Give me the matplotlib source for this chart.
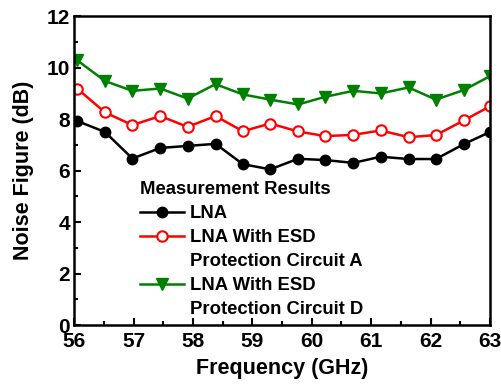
import matplotlib.pyplot as plt
from matplotlib.lines import Line2D
from matplotlib.ticker import MultipleLocator

freq = [56.05, 56.52, 56.98, 57.45, 57.91, 58.38, 58.84, 59.3,
        59.77, 60.23, 60.7, 61.16, 61.63, 62.09, 62.56, 63.0]
nf_lna = [7.93, 7.5, 6.47, 6.88, 6.96, 7.04, 6.25, 6.05,
          6.46, 6.41, 6.3, 6.54, 6.45, 6.45, 7.03, 7.5]
nf_esd_a = [9.19, 8.26, 7.77, 8.12, 7.70, 8.12, 7.53, 7.83,
            7.52, 7.34, 7.39, 7.56, 7.30, 7.38, 7.95, 8.50]
nf_esd_d = [10.29, 9.48, 9.10, 9.19, 8.80, 9.36, 8.96, 8.76,
            8.57, 8.87, 9.10, 9.0, 9.23, 8.76, 9.13, 9.67]

plt.rcParams['font.family'] = ['Liberation Sans', 'DejaVu Sans']
plt.rcParams['font.weight'] = 'bold'

fig, ax = plt.subplots(figsize=(5.01, 3.86), dpi=100)
fig.subplots_adjust(left=0.148, right=0.978, top=0.958, bottom=0.158)

l1, = ax.plot(freq, nf_lna, color='black', marker='o', ms=7.5, lw=1.8)
l2, = ax.plot(freq, nf_esd_a, color='red', marker='o', ms=7.5, lw=1.8,
              mfc='white', mec='red', mew=1.5)
l3, = ax.plot(freq, nf_esd_d, color='green', marker='v', ms=8.5, lw=1.8)

ax.set_xlim(56, 63)
ax.set_ylim(0, 12)
ax.xaxis.set_major_locator(MultipleLocator(1))
ax.xaxis.set_minor_locator(MultipleLocator(0.5))
ax.yaxis.set_major_locator(MultipleLocator(2))
ax.yaxis.set_minor_locator(MultipleLocator(1))
ax.tick_params(which='both', direction='in', width=1.5, labelsize=15)
ax.tick_params(which='major', length=5)
ax.tick_params(which='minor', length=3)
ax.tick_params(axis='x', pad=5)
ax.tick_params(axis='y', pad=3)
for s in ax.spines.values():
    s.set_linewidth(1.8)

ax.set_xlabel('Frequency (GHz)', fontsize=15.5, fontweight='bold', labelpad=5)
ax.set_ylabel('Noise Figure (dB)', fontsize=15.5, fontweight='bold', labelpad=9)

# second line of the two-line labels as entries without a visible handle
blank = Line2D([], [], color='none')
handles = [l1, l2, blank, l3, blank]
labels = ['LNA', 'LNA With ESD', 'Protection Circuit A',
          'LNA With ESD', 'Protection Circuit D']
leg = ax.legend(handles, labels, loc='upper left', bbox_to_anchor=(0.14, 0.49),
                frameon=False, title='Measurement Results', fontsize=13.3,
                title_fontproperties={'weight': 'bold', 'size': 13.3},
                handlelength=2.4, handletextpad=0.3, labelspacing=0.38,
                borderaxespad=0, alignment='left')

fig.savefig('out.png', dpi=100)
